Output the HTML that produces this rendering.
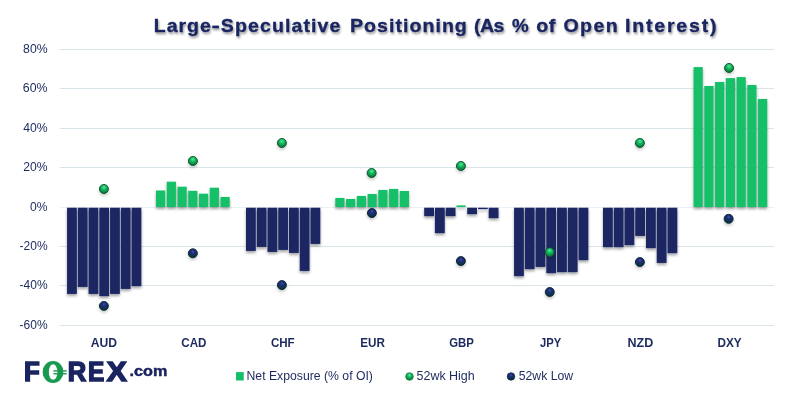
<!DOCTYPE html>
<html><head><meta charset="utf-8"><title>Large-Speculative Positioning</title>
<style>
html,body{margin:0;padding:0;background:#fff;}
body{width:798px;height:400px;overflow:hidden;}
svg{display:block;font-family:"Liberation Sans","DejaVu Sans",sans-serif;}
</style></head><body>
<svg width="798" height="400" viewBox="0 0 798 400">
<defs>
<filter id="sh" x="-20%" y="-20%" width="140%" height="140%"><feGaussianBlur in="SourceAlpha" stdDeviation="1.5"/><feOffset dx="0.3" dy="1.8" result="b"/><feComponentTransfer><feFuncA type="linear" slope="0.38"/></feComponentTransfer><feMerge><feMergeNode/><feMergeNode in="SourceGraphic"/></feMerge></filter>
<filter id="dsh" x="-40%" y="-40%" width="180%" height="180%"><feGaussianBlur in="SourceAlpha" stdDeviation="1.4"/><feOffset dx="0.2" dy="1.5"/><feComponentTransfer><feFuncA type="linear" slope="0.22"/></feComponentTransfer><feMerge><feMergeNode/><feMergeNode in="SourceGraphic"/></feMerge></filter>
<filter id="tsh" x="-5%" y="-30%" width="110%" height="180%"><feGaussianBlur in="SourceAlpha" stdDeviation="1.1"/><feOffset dx="0.8" dy="1.8"/><feComponentTransfer><feFuncA type="linear" slope="0.4"/></feComponentTransfer><feMerge><feMergeNode/><feMergeNode in="SourceGraphic"/></feMerge></filter>
<radialGradient id="gh" cx="0.5" cy="0.32" r="0.6"><stop offset="0" stop-color="#58ea9c"/><stop offset="0.4" stop-color="#18bd64"/><stop offset="1" stop-color="#0a7a3c"/></radialGradient>
<radialGradient id="gl" cx="0.5" cy="0.32" r="0.6"><stop offset="0" stop-color="#4456ad"/><stop offset="0.3" stop-color="#232d82"/><stop offset="0.7" stop-color="#14305a"/><stop offset="1" stop-color="#08303a"/></radialGradient>
</defs>
<rect width="798" height="400" fill="#fff"/>

<g fill="#d9e5e9">
<rect x="59.6" y="49" width="714.6" height="1"/>
<rect x="59.6" y="88" width="714.6" height="1"/>
<rect x="59.6" y="128" width="714.6" height="1"/>
<rect x="59.6" y="167" width="714.6" height="1"/>
<rect x="59.6" y="207" width="714.6" height="1" fill="#eaf1f3"/>
<rect x="59.6" y="246" width="714.6" height="1"/>
<rect x="59.6" y="285" width="714.6" height="1"/>
<rect x="59.6" y="325" width="714.6" height="1"/>
</g>
<g font-size="12.8" fill="#1c2a5e">
<text x="23.1" y="53.10" textLength="24.5" lengthAdjust="spacingAndGlyphs">80%</text>
<text x="22.85" y="92.10" textLength="24.75" lengthAdjust="spacingAndGlyphs">60%</text>
<text x="23.15" y="132.10" textLength="24.45" lengthAdjust="spacingAndGlyphs">40%</text>
<text x="23.3" y="171.10" textLength="24.3" lengthAdjust="spacingAndGlyphs">20%</text>
<text x="30.1" y="211.10" textLength="17.5" lengthAdjust="spacingAndGlyphs">0%</text>
<text x="19.5" y="250.10" textLength="28.1" lengthAdjust="spacingAndGlyphs">-20%</text>
<text x="19.5" y="289.10" textLength="28.1" lengthAdjust="spacingAndGlyphs">-40%</text>
<text x="19.5" y="329.10" textLength="28.1" lengthAdjust="spacingAndGlyphs">-60%</text>
</g>
<g filter="url(#sh)">
<rect x="67.05" y="207.70" width="9.8" height="86.20" fill="#1b2664"/>
<rect x="77.80" y="207.70" width="9.8" height="79.20" fill="#1b2664"/>
<rect x="88.55" y="207.70" width="9.8" height="86.20" fill="#1b2664"/>
<rect x="99.30" y="207.70" width="9.8" height="88.45" fill="#1b2664"/>
<rect x="110.05" y="207.70" width="9.8" height="86.20" fill="#1b2664"/>
<rect x="120.80" y="207.70" width="9.8" height="81.20" fill="#1b2664"/>
<rect x="131.55" y="207.70" width="9.8" height="78.45" fill="#1b2664"/>
<rect x="156.00" y="190.45" width="9.2" height="16.55" fill="#13c067"/>
<rect x="166.75" y="181.70" width="9.2" height="25.30" fill="#13c067"/>
<rect x="177.50" y="186.70" width="9.2" height="20.30" fill="#13c067"/>
<rect x="188.25" y="190.80" width="9.2" height="16.20" fill="#13c067"/>
<rect x="199.00" y="193.70" width="9.2" height="13.30" fill="#13c067"/>
<rect x="209.75" y="187.70" width="9.2" height="19.30" fill="#13c067"/>
<rect x="220.50" y="196.95" width="9.2" height="10.05" fill="#13c067"/>
<rect x="246.00" y="207.70" width="9.8" height="43.20" fill="#1b2664"/>
<rect x="256.75" y="207.70" width="9.8" height="39.20" fill="#1b2664"/>
<rect x="267.50" y="207.70" width="9.8" height="44.20" fill="#1b2664"/>
<rect x="278.25" y="207.70" width="9.8" height="42.20" fill="#1b2664"/>
<rect x="289.00" y="207.70" width="9.8" height="45.20" fill="#1b2664"/>
<rect x="299.75" y="207.70" width="9.8" height="63.20" fill="#1b2664"/>
<rect x="310.50" y="207.70" width="9.8" height="36.20" fill="#1b2664"/>
<rect x="335.30" y="197.95" width="9.2" height="9.05" fill="#13c067"/>
<rect x="346.05" y="198.95" width="9.2" height="8.05" fill="#13c067"/>
<rect x="356.80" y="195.95" width="9.2" height="11.05" fill="#13c067"/>
<rect x="367.55" y="193.95" width="9.2" height="13.05" fill="#13c067"/>
<rect x="378.30" y="189.95" width="9.2" height="17.05" fill="#13c067"/>
<rect x="389.05" y="188.95" width="9.2" height="18.05" fill="#13c067"/>
<rect x="399.80" y="190.95" width="9.2" height="16.05" fill="#13c067"/>
<rect x="424.20" y="207.70" width="9.8" height="8.45" fill="#1b2664"/>
<rect x="434.95" y="207.70" width="9.8" height="25.45" fill="#1b2664"/>
<rect x="445.70" y="207.70" width="9.8" height="8.45" fill="#1b2664"/>
<rect x="456.45" y="205.40" width="9.2" height="1.60" fill="#13c067"/>
<rect x="467.20" y="207.70" width="9.8" height="6.45" fill="#1b2664"/>
<rect x="477.95" y="207.70" width="9.8" height="1.45" fill="#1b2664"/>
<rect x="488.70" y="207.70" width="9.8" height="10.45" fill="#1b2664"/>
<rect x="514.05" y="207.70" width="9.8" height="68.45" fill="#1b2664"/>
<rect x="524.80" y="207.70" width="9.8" height="61.45" fill="#1b2664"/>
<rect x="535.55" y="207.70" width="9.8" height="59.20" fill="#1b2664"/>
<rect x="546.30" y="207.70" width="9.8" height="65.45" fill="#1b2664"/>
<rect x="557.05" y="207.70" width="9.8" height="64.45" fill="#1b2664"/>
<rect x="567.80" y="207.70" width="9.8" height="64.45" fill="#1b2664"/>
<rect x="578.55" y="207.70" width="9.8" height="52.45" fill="#1b2664"/>
<rect x="603.00" y="207.70" width="9.8" height="39.45" fill="#1b2664"/>
<rect x="613.75" y="207.70" width="9.8" height="39.45" fill="#1b2664"/>
<rect x="624.50" y="207.70" width="9.8" height="37.45" fill="#1b2664"/>
<rect x="635.25" y="207.70" width="9.8" height="28.20" fill="#1b2664"/>
<rect x="646.00" y="207.70" width="9.8" height="40.45" fill="#1b2664"/>
<rect x="656.75" y="207.70" width="9.8" height="55.20" fill="#1b2664"/>
<rect x="667.50" y="207.70" width="9.8" height="45.45" fill="#1b2664"/>
<rect x="693.55" y="67.10" width="9.2" height="139.90" fill="#13c067"/>
<rect x="704.30" y="85.95" width="9.2" height="121.05" fill="#13c067"/>
<rect x="715.05" y="81.95" width="9.2" height="125.05" fill="#13c067"/>
<rect x="725.80" y="78.10" width="9.2" height="128.90" fill="#13c067"/>
<rect x="736.55" y="77.10" width="9.2" height="129.90" fill="#13c067"/>
<rect x="747.30" y="84.95" width="9.2" height="122.05" fill="#13c067"/>
<rect x="758.05" y="98.95" width="9.2" height="108.05" fill="#13c067"/>
</g>
<g filter="url(#dsh)">
<circle cx="103.9" cy="188.95" r="4.5" fill="url(#gh)" stroke="#08502a" stroke-width="0.9"/>
<circle cx="192.9" cy="160.95" r="4.5" fill="url(#gh)" stroke="#08502a" stroke-width="0.9"/>
<circle cx="281.9" cy="142.95" r="4.5" fill="url(#gh)" stroke="#08502a" stroke-width="0.9"/>
<circle cx="371.65" cy="172.95" r="4.5" fill="url(#gh)" stroke="#08502a" stroke-width="0.9"/>
<circle cx="460.9" cy="165.95" r="4.5" fill="url(#gh)" stroke="#08502a" stroke-width="0.9"/>
<circle cx="549.75" cy="252.2" r="4.5" fill="url(#gh)" stroke="#08502a" stroke-width="0.9"/>
<circle cx="639.9" cy="142.95" r="4.5" fill="url(#gh)" stroke="#08502a" stroke-width="0.9"/>
<circle cx="729.05" cy="67.95" r="4.5" fill="url(#gh)" stroke="#08502a" stroke-width="0.9"/>
<circle cx="103.9" cy="305.90000000000003" r="4.5" fill="url(#gl)" stroke="#07282e" stroke-width="0.9"/>
<circle cx="192.85" cy="253.3" r="4.5" fill="url(#gl)" stroke="#07282e" stroke-width="0.9"/>
<circle cx="281.9" cy="285.05" r="4.5" fill="url(#gl)" stroke="#07282e" stroke-width="0.9"/>
<circle cx="371.9" cy="213.05" r="4.5" fill="url(#gl)" stroke="#07282e" stroke-width="0.9"/>
<circle cx="460.9" cy="261.05" r="4.5" fill="url(#gl)" stroke="#07282e" stroke-width="0.9"/>
<circle cx="549.75" cy="292.0" r="4.5" fill="url(#gl)" stroke="#07282e" stroke-width="0.9"/>
<circle cx="639.9" cy="262.05" r="4.5" fill="url(#gl)" stroke="#07282e" stroke-width="0.9"/>
<circle cx="728.65" cy="218.8" r="4.5" fill="url(#gl)" stroke="#07282e" stroke-width="0.9"/>
</g>
<g font-size="12.3" font-weight="bold" fill="#1c2a5e">
<text x="90.65" y="346.9" textLength="26.35" lengthAdjust="spacingAndGlyphs">AUD</text>
<text x="181.25" y="346.9" textLength="25.25" lengthAdjust="spacingAndGlyphs">CAD</text>
<text x="270.9" y="346.9" textLength="23.8" lengthAdjust="spacingAndGlyphs">CHF</text>
<text x="360.15" y="346.9" textLength="24.7" lengthAdjust="spacingAndGlyphs">EUR</text>
<text x="449.15" y="346.9" textLength="24.65" lengthAdjust="spacingAndGlyphs">GBP</text>
<text x="540.1" y="346.9" textLength="21.15" lengthAdjust="spacingAndGlyphs">JPY</text>
<text x="627.5" y="346.9" textLength="25.8" lengthAdjust="spacingAndGlyphs">NZD</text>
<text x="717.45" y="346.9" textLength="24.2" lengthAdjust="spacingAndGlyphs">DXY</text>
</g>
<g font-size="18.6" font-weight="bold" fill="#1a2560" stroke="#1a2560" stroke-width="0.3" filter="url(#tsh)" transform="scale(1.05,1)">
<text y="32.0"><tspan x="146.46" textLength="54.39" lengthAdjust="spacing">Large</tspan><tspan x="201.46" textLength="7.96" lengthAdjust="spacingAndGlyphs">-</tspan><tspan x="210.25" textLength="113.96" lengthAdjust="spacing">Speculative</tspan> <tspan x="333.29" textLength="111.29" lengthAdjust="spacing">Positioning</tspan> <tspan x="451.39" textLength="29.04" lengthAdjust="spacing">(As</tspan> <tspan x="487.75" textLength="15.86" lengthAdjust="spacingAndGlyphs">%</tspan> <tspan x="510.68" textLength="18.18" lengthAdjust="spacing">of</tspan> <tspan x="536.61" textLength="51.64" lengthAdjust="spacing">Open</tspan> <tspan x="595.14" textLength="87.32" lengthAdjust="spacing">Interest)</tspan></text>
</g>
<rect x="236" y="372.1" width="7.75" height="8.4" fill="#13c067"/>
<g font-size="12.2" fill="#1c2a5e">
<text x="246.50" y="380.1" textLength="126.45" lengthAdjust="spacingAndGlyphs">Net Exposure (% of OI)</text>
<text x="416.50" y="380.1" textLength="58.25" lengthAdjust="spacingAndGlyphs">52wk High</text>
<text x="518.75" y="380.1" textLength="54.35" lengthAdjust="spacingAndGlyphs">52wk Low</text>
</g>
<circle cx="409.5" cy="376.5" r="3.8" fill="url(#gh)" stroke="#0b7a3c" stroke-width="0.7"/>
<circle cx="511" cy="376.5" r="3.8" fill="url(#gl)" stroke="#0c2a3a" stroke-width="0.7"/>
<text x="53" y="382.3" font-size="29.2" fill="#1a9a50" text-anchor="middle">O</text>
<g font-weight="bold" font-size="26.9" stroke-width="1.5" stroke-linejoin="miter">
<text x="24.00" y="381.05" fill="#1a2560" stroke="#1a2560" textLength="15.75" lengthAdjust="spacingAndGlyphs">F</text>
<text x="67.75" y="381.05" fill="#1a2560" stroke="#1a2560" textLength="18.50" lengthAdjust="spacingAndGlyphs">R</text>
<text x="88.00" y="381.05" fill="#1a2560" stroke="#1a2560" textLength="16.25" lengthAdjust="spacingAndGlyphs">E</text>
<text x="106.75" y="381.05" fill="#1a2560" stroke="#1a2560" textLength="20.00" lengthAdjust="spacingAndGlyphs">X</text>
</g>
<path fill="#1a9a50" fill-rule="evenodd" d="M53 360.9a10.4 11.1 0 1 0 0 22.2a10.4 11.1 0 1 0 0-22.2zM53.1 364.1a4.3 8 0 1 1 0 16a4.3 8 0 1 1 0-16z"/>
<g fill="#1a9a50"><rect x="53.4" y="370.2" width="4.4" height="1.4"/><rect x="53.4" y="373.05" width="4.4" height="1.4"/><rect x="62.6" y="370.2" width="4.1" height="1.4"/><rect x="62.6" y="373.05" width="4.1" height="1.4"/></g>
<text x="129.5" y="376.2" font-size="14.2" font-weight="bold" fill="#1a2560" stroke="#1a2560" stroke-width="0.4" textLength="37.8" lengthAdjust="spacingAndGlyphs">.com</text>
</svg></body></html>
